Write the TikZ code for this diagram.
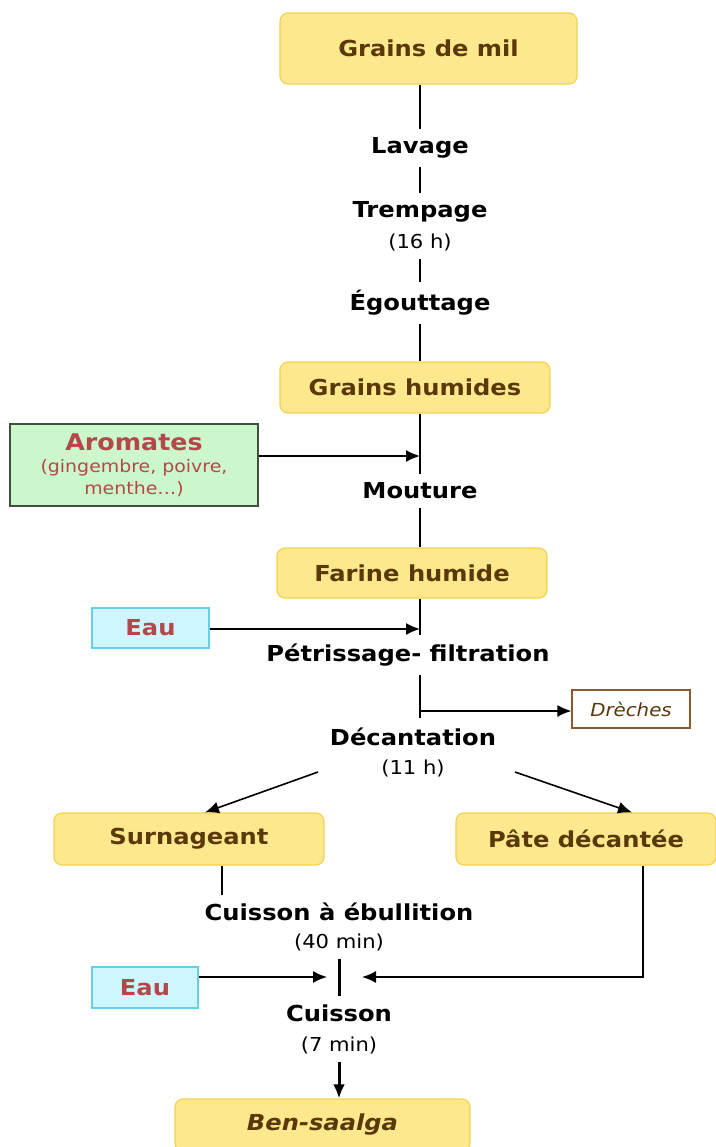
\documentclass[tikz,border=0pt]{standalone}
\usepackage{fontspec}
\setmainfont{DejaVu Sans}[FakeStretch=1.1]
\usetikzlibrary{positioning,arrows.meta}

\definecolor{jaune}{HTML}{FDE88D}
\definecolor{bordjaune}{HTML}{F2D24F}
\definecolor{brun}{HTML}{5A380A}
\definecolor{rouge}{HTML}{B4474A}
\definecolor{vert}{HTML}{CCF7CC}
\definecolor{bordvert}{HTML}{3E523E}
\definecolor{cyan}{HTML}{CFF6FF}
\definecolor{bordcyan}{HTML}{66CDEB}
\definecolor{bordbrun}{HTML}{8C5A2E}

\tikzset{
  produit/.style={draw=bordjaune, fill=jaune, rounded corners=4pt, line width=0.6pt,
    text=brun, font=\bfseries\fontsize{11}{13}\selectfont},
  etape/.style={font=\bfseries\fontsize{11}{13}\selectfont, inner xsep=2pt, inner ysep=4pt},
  duree/.style={font=\fontsize{9.6}{11}\selectfont, inner xsep=2pt, inner ysep=4pt},
  ajout/.style={draw=bordcyan, fill=cyan, line width=0.6pt, text=rouge,
    font=\bfseries\fontsize{11}{13}\selectfont},
  fleche/.style={->, line width=0.8pt},
  trait/.style={line width=0.8pt},
}

\begin{document}
\begin{tikzpicture}[x=0.5pt, y=-0.5pt, >={Latex[length=7pt,width=6pt]}]
    % cadre (1 px = 0.5 pt)
    \useasboundingbox (0,0) rectangle (716,1147);

    % Produits
    \node[produit, minimum width=148.5pt, minimum height=35.5pt] (mil) at (428.5,48.5) {Grains de mil};
    \node[produit, minimum width=135pt, minimum height=25.5pt] (humides) at (415,387.5) {Grains humides};
    \node[produit, minimum width=135pt, minimum height=25pt] (farine) at (412,573) {Farine humide};
    \node[produit, minimum width=135pt, minimum height=26pt] (surn) at (189,839) {Surnageant};
    \node[produit, minimum width=130pt, minimum height=26pt] (pate) at (586,839) {Pâte décantée};
    \node[produit, minimum width=147.5pt, minimum height=26pt] (ben) at (322.5,1125) {\itshape Ben-saalga};

    % Ajouts
    \node[draw=bordvert, fill=vert, line width=0.6pt, text=rouge, align=center,
          minimum width=124pt, minimum height=41pt, font=\fontsize{8.6}{11}\selectfont]
        (arom) at (134,465) {{\bfseries\fontsize{11.5}{13.5}\selectfont Aromates}\\(gingembre, poivre,\\menthe…)};
    \node[ajout, minimum width=58.5pt, minimum height=20pt] (eauA) at (150.5,628) {Eau};
    \node[ajout, minimum width=53pt, minimum height=20.5pt] (eauB) at (145,987.5) {Eau};
    \node[draw=bordbrun, fill=white, line width=0.6pt, text=brun, minimum width=59pt, minimum height=19pt,
          font=\itshape\fontsize{9}{10}\selectfont] (dreches) at (631,709) {Drèches};

    % Operations unitaires
    \node[etape] (lavage) at (420,148) {Lavage};
    \node[etape] (trempage) at (420,212) {Trempage};
    \node[duree] (t16) at (420,242) {(16 h)};
    \node[etape] (egout) at (420,303) {Égouttage};
    \node[etape] (mouture) at (420,491) {Mouture};
    \node[etape] (petri) at (408,655) {Pétrissage- filtration};
    \node[etape] (deca) at (413,737) {Décantation};
    \node[duree] (t11) at (413,768) {(11 h)};
    \node[etape] (ebul) at (339,912) {Cuisson à ébullition};
    \node[duree] (t40) at (339,942) {(40 min)};
    \node[etape] (cuisson) at (339,1013) {Cuisson};
    \node[duree] (t7) at (339,1045) {(7 min)};

    % Points de jonction
    \coordinate (axe) at (420,0);
    \coordinate (jArom) at (420,456);
    \coordinate (jEau) at (420,629);
    \coordinate (jDre) at (420,711);
    \coordinate (gauche) at (318,772);
    \coordinate (droite) at (515,772);
    \coordinate (gCuis) at (327,977);
    \coordinate (dCuis) at (362,977);

    % Ligne principale
    \draw[trait] (mil.south -| axe) -- (lavage.north);
    \draw[trait] (lavage.south) -- (trempage.north);
    \draw[trait] (t16.south) -- (egout.north);
    \draw[trait] (egout.south) -- (humides.north -| axe);
    \draw[trait] (humides.south -| axe) -- (mouture.north);
    \draw[trait] (mouture.south) -- (farine.north -| axe);
    \draw[trait] (farine.south -| axe) -- (petri.north -| axe);
    \draw[trait] (petri.south -| axe) -- ([yshift=1pt]deca.north -| axe);

    % Entrees et sorties
    \draw[fleche] (arom.east |- jArom) -- (jArom);
    \draw[fleche] (eauA.east |- jEau) -- (jEau);
    \draw[fleche] (jDre) -- (dreches.west |- jDre);

    % Decantation
    \draw[fleche] (gauche) -- ([xshift=8pt]surn.north);
    \draw[fleche] (droite) -- ([xshift=23pt]pate.north);

    % Cuissons
    \draw[trait] ([xshift=16.5pt]surn.south) -- ([xshift=16.5pt]surn.south |- ebul.north);
    \draw[line width=1.5pt] (t40.south) -- (cuisson.north);
    \draw[fleche] (eauB.east |- gCuis) -- (gCuis);
    \draw[fleche] ([xshift=28.5pt]pate.south) |- (dCuis);
    \draw[->, line width=1.5pt] (t7.south) -- (t7.south |- ben.north);

\end{tikzpicture}
\end{document}
